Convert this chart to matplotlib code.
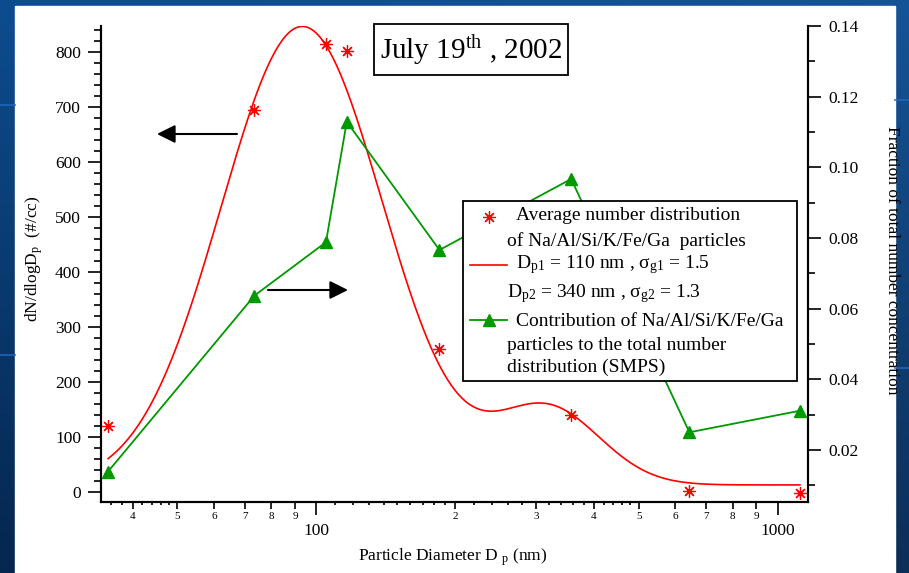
import numpy as np
import matplotlib
matplotlib.use("Agg")
import matplotlib.pyplot as plt
from matplotlib.ticker import (FixedLocator, FixedFormatter, MultipleLocator,
                               NullLocator, FormatStrFormatter)
from matplotlib.patches import Rectangle, FancyArrowPatch
from matplotlib.lines import Line2D

plt.rcParams['font.family'] = 'Liberation Serif'
plt.rcParams['mathtext.fontset'] = 'custom'
plt.rcParams['mathtext.rm'] = 'Liberation Serif'
plt.rcParams['mathtext.it'] = 'Liberation Serif:italic'

# particle diameter of each size bin (nm)
diam = [35.4, 73.5, 105, 116.5, 185, 357, 644, 1118]
# average dN/dlogDp of Na/Al/Si/K/Fe/Ga particles (#/cc)
dn_dlogdp = [120, 695, 815, 802, 260, 141, 2, -2]
# fraction of the total SMPS number concentration
frac_total = [0.0139, 0.0637, 0.0788, 0.1129, 0.0766, 0.0967, 0.0250, 0.0311]

# bimodal lognormal fit
dp_g = [110, 340]
sigma_g = [1.5, 1.3]
n_mode = [85800, 30000]
background = 13


def lognormal(d, n, dg, sg):
    ls = np.log(sg)
    return n / (np.sqrt(2 * np.pi) * d * ls) * np.exp(-np.log(d / dg) ** 2 / (2 * ls ** 2))


d_fit = np.geomspace(diam[0], diam[-1], 400)
fit = background + sum(lognormal(d_fit, n, dg, sg) for n, dg, sg in zip(n_mode, dp_g, sigma_g))

# figure is laid out in pixels
W, H = 909, 573
def fx(x):
    return x / W
def fy(y):
    return 1 - y / H

fig = plt.figure(figsize=(W / 100, H / 100), dpi=100)

# blue slide background with a white panel
bg = fig.add_axes([0, 0, 1, 1], zorder=-2)
rows = np.linspace(0, 1, 200)[:, None, None]
cols = np.linspace(0, 1, 200)[None, :, None]
top = np.array([0.05, 0.30, 0.56])
bottom = np.array([0.02, 0.15, 0.31])
img = top * (1 - rows) + bottom * rows + 0.03 * cols
bg.imshow(np.clip(img, 0, 1), extent=[0, 1, 0, 1], aspect='auto', origin='upper')
for y in (105, 355):
    bg.plot([0, fx(15)], [fy(y), fy(y)], color='#1f6cc4', lw=1.5, alpha=0.7)
for y in (100, 368):
    bg.plot([fx(895), 1], [fy(y), fy(y)], color='#1f6cc4', lw=1.5, alpha=0.7)
bg.add_patch(Rectangle((fx(15), 0), fx(895) - fx(15), fy(6), color='white'))
bg.set_xlim(0, 1)
bg.set_ylim(0, 1)
bg.axis('off')

ax = fig.add_axes([fx(101), fy(502), fx(808) - fx(101), fy(26) - fy(502)])
ax.patch.set_visible(False)

ax.plot(d_fit, fit, color='red', lw=1.2)
ax.plot(diam, dn_dlogdp, ls='none', marker=(8, 2, 0), ms=9, mew=0.9, color='red')

ax2 = ax.twinx()
ax2.plot(diam, frac_total, color='#009900', lw=1.3, marker='^', ms=8)

# x axis: log scale with Igor-like decade labels
ax.set_xscale('log')
ax.set_xlim(34.17, 1164)
major_x = [100, 1000]
labeled_minor = [40, 50, 60, 70, 80, 90, 200, 300, 400, 500, 600, 700, 800, 900]
minor_labels = [str(int(v / 10 ** np.floor(np.log10(v)))) for v in labeled_minor]
small_x = [t for t in list(range(36, 50, 2)) + list(range(110, 200, 10)) + list(range(220, 500, 20))
           if t not in labeled_minor]
ax.xaxis.set_major_locator(FixedLocator(major_x))
ax.xaxis.set_major_formatter(FixedFormatter([str(v) for v in major_x]))
ax.xaxis.set_minor_locator(FixedLocator(labeled_minor))
ax.xaxis.set_minor_formatter(FixedFormatter(minor_labels))
ax.tick_params(axis='x', which='major', length=9.4, width=1.2, pad=6, labelsize=12.5)
ax.tick_params(axis='x', which='minor', length=5, width=1.2, pad=2, labelsize=8)

sec = ax.secondary_xaxis('bottom')
sec.xaxis.set_major_locator(FixedLocator(small_x))
sec.xaxis.set_minor_locator(NullLocator())
sec.tick_params(axis='x', length=2.5, width=1.2, labelbottom=False)
sec.spines['bottom'].set_visible(False)

# left axis
ax.set_ylim(-18, 847)
ax.yaxis.set_major_locator(MultipleLocator(100))
ax.yaxis.set_minor_locator(MultipleLocator(20))
ax.tick_params(axis='y', which='major', length=9.4, width=1.2, pad=5, labelsize=12.5)
ax.tick_params(axis='y', which='minor', length=5, width=1.2)

# right axis
ax2.set_ylim(0.00527, 0.14)
ax2.set_yticks(np.arange(0.02, 0.141, 0.02))
ax2.yaxis.set_major_formatter(FormatStrFormatter('%.2f'))
ax2.yaxis.set_minor_locator(MultipleLocator(0.01))
ax2.tick_params(axis='y', which='major', length=9.4, width=1.2, pad=5, labelsize=12.5)
ax2.tick_params(axis='y', which='minor', length=5, width=1.2)

for a in (ax, ax2):
    a.spines['top'].set_visible(False)
    for s in ('left', 'right', 'bottom'):
        a.spines[s].set_linewidth(1.5)

ax.set_xlabel('Particle Diameter D $_{\\mathrm{p}}$ (nm)', fontsize=12.5, va='center')
ax.xaxis.set_label_coords((453 - 101) / 707, (502 - 557) / 476)
ax.set_ylabel('dN/dlogD$_{\\mathrm{p}}$  (#/cc)', fontsize=12.5, va='center')
ax.yaxis.set_label_coords((34 - 101) / 707, (502 - 259) / 476)
ax2.set_ylabel('Fraction of total number concentration', fontsize=12.5, rotation=-90, va='center')
ax2.yaxis.set_label_coords((892 - 101) / 707, (502 - 260) / 476)

# arrows telling which axis each series belongs to
arrow = dict(arrowstyle='-|>,head_length=1,head_width=0.5', mutation_scale=11,
             lw=1.5, color='black', shrinkA=0, shrinkB=0)
fig.add_artist(FancyArrowPatch((fx(237), fy(134)), (fx(157), fy(134)),
                               transform=fig.transFigure, **arrow))
fig.add_artist(FancyArrowPatch((fx(268), fy(290)), (fx(348), fy(290)),
                               transform=fig.transFigure, **arrow))

# date box
fig.add_artist(Rectangle((fx(374), fy(75)), fx(568) - fx(374), fy(24) - fy(75),
                         transform=fig.transFigure, facecolor='white', edgecolor='black', lw=1.3))
fig.text(fx(471), fy(50), 'July 19$^{\\mathrm{th}}$ , 2002', ha='center', va='center', fontsize=21)

# legend
fig.add_artist(Rectangle((fx(463), fy(381)), fx(797) - fx(463), fy(201) - fy(381),
                         transform=fig.transFigure, facecolor='white', edgecolor='black', lw=1.3,
                         zorder=2.5))
fig.add_artist(Line2D([fx(489)], [fy(217)], transform=fig.transFigure, ls='none',
                      marker=(8, 2, 0), ms=9, mew=0.9, color='red', zorder=3))
fig.add_artist(Line2D([fx(470), fx(507)], [fy(265), fy(265)], transform=fig.transFigure,
                      color='red', lw=1.2, zorder=3))
fig.add_artist(Line2D([fx(470), fx(507)], [fy(320), fy(320)], transform=fig.transFigure,
                      color='#009900', lw=1.3, zorder=3))
fig.add_artist(Line2D([fx(489)], [fy(320)], transform=fig.transFigure, ls='none',
                      marker='^', ms=8, color='#009900', zorder=3))
legend_lines = [
    (516, 216, 'Average number distribution'),
    (507, 241, 'of Na/Al/Si/K/Fe/Ga  particles'),
    (516, 265, 'D$_{\\mathrm{p1}}$ = 110 nm , \u03c3$_{\\mathrm{g1}}$ = 1.5'),
    (507, 294, 'D$_{\\mathrm{p2}}$ = 340 nm , \u03c3$_{\\mathrm{g2}}$ = 1.3'),
    (516, 321, 'Contribution of Na/Al/Si/K/Fe/Ga'),
    (507, 345, 'particles to the total number'),
    (507, 367, 'distribution (SMPS)'),
]
for x, y, s in legend_lines:
    fig.text(fx(x), fy(y), s, ha='left', va='center', fontsize=14, zorder=4)

fig.savefig('out.png', dpi=100)
